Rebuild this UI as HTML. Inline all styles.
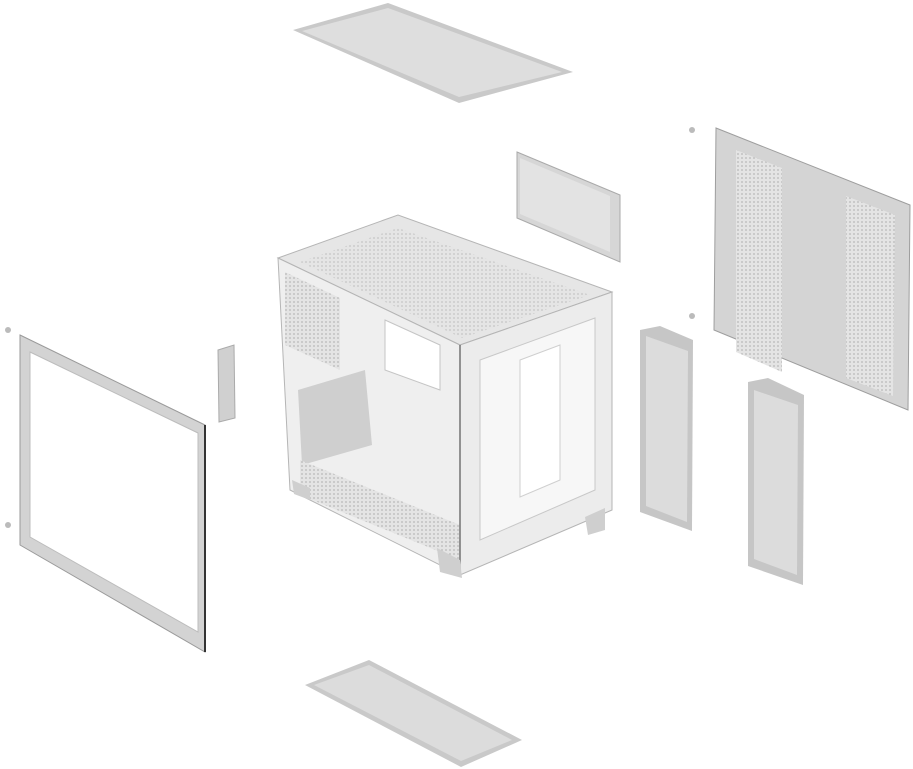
<!DOCTYPE html>
<html><head><meta charset="utf-8"><style>
html,body{margin:0;padding:0;background:#fff;}
svg{display:block}
</style></head><body>
<svg width="913" height="769" viewBox="0 0 913 769" xmlns="http://www.w3.org/2000/svg">
<defs>
<pattern id="dots" width="4" height="4" patternUnits="userSpaceOnUse"><rect width="4" height="4" fill="#e4e4e4"/><circle cx="2" cy="2" r="0.9" fill="#b8b8b8"/></pattern>
</defs>
<!-- top filter -->
<polygon points="293,30 388,3 573,72 459,103" fill="#c9c9c9"/>
<polygon points="302,31 388,8 562,72 459,97" fill="#dedede"/>
<!-- bottom filter -->
<polygon points="305,685 369,660 522,740 461,767" fill="#c9c9c9"/>
<polygon points="314,685 369,665 512,740 461,761" fill="#dcdcdc"/>
<!-- left glass panel -->
<polygon points="20,335 205,425 205,652 20,545" fill="#d3d3d3" stroke="#9a9a9a" stroke-width="1"/>
<polygon points="30,352 198,433 198,632 30,537" fill="#fff" stroke="#bcbcbc" stroke-width="1"/>
<line x1="205" y1="425" x2="205" y2="652" stroke="#333" stroke-width="2"/>
<circle cx="8" cy="330" r="3" fill="#bbb"/><circle cx="8" cy="525" r="3" fill="#bbb"/>
<!-- small bracket -->
<polygon points="218,350 234,345 235,418 219,422" fill="#d0d0d0" stroke="#aaa"/>
<!-- bracket -->
<polygon points="517,152 620,195 620,262 517,218" fill="#d6d6d6" stroke="#aaa"/>
<polygon points="520,158 610,196 610,252 520,214" fill="#e3e3e3"/>
<!-- right side panel -->
<polygon points="716,128 910,205 908,410 714,330" fill="#d4d4d4" stroke="#9e9e9e"/>
<polygon points="736,150 782,168 782,372 736,352" fill="url(#dots)"/>
<polygon points="846,196 895,215 893,396 846,378" fill="url(#dots)"/>
<circle cx="692" cy="130" r="3" fill="#bbb"/><circle cx="692" cy="316" r="3" fill="#bbb"/>
<!-- filter strips -->
<polygon points="640,330 660,326 693,340 692,531 640,512" fill="#c6c6c6"/>
<polygon points="646,336 688,351 687,522 646,506" fill="#dcdcdc"/>
<polygon points="748,382 768,378 804,395 803,585 748,566" fill="#c6c6c6"/>
<polygon points="754,390 798,405 797,575 754,559" fill="#dcdcdc"/>
<!-- main case -->
<polygon points="278,258 398,215 612,292 460,345" fill="#e6e6e6" stroke="#b5b5b5"/>
<polygon points="300,262 398,228 590,295 462,338" fill="url(#dots)" opacity="0.7"/>
<polygon points="278,258 460,345 460,575 290,490" fill="#efefef" stroke="#b5b5b5"/>
<polygon points="285,272 340,298 340,370 285,345" fill="url(#dots)"/>
<polygon points="298,390 365,370 372,445 302,465" fill="#cfcfcf"/>
<polygon points="300,460 460,525 460,560 300,495" fill="url(#dots)"/>
<polygon points="385,320 440,345 440,390 385,370" fill="#fff" stroke="#c5c5c5"/>
<polygon points="460,345 612,292 612,510 460,575" fill="#ececec" stroke="#b5b5b5"/>
<polygon points="480,360 595,318 595,490 480,540" fill="#f7f7f7" stroke="#c8c8c8"/>
<polygon points="520,360 560,345 560,480 520,497" fill="#fff" stroke="#cfcfcf"/>
<line x1="460" y1="345" x2="460" y2="575" stroke="#555" stroke-width="1.2"/>
<polygon points="437,548 460,560 462,578 440,572" fill="#cfcfcf"/>
<polygon points="292,480 310,488 310,500 294,494" fill="#cfcfcf"/>
<polygon points="585,517 605,508 605,530 588,535" fill="#cfcfcf"/>
</svg>
</body></html>
